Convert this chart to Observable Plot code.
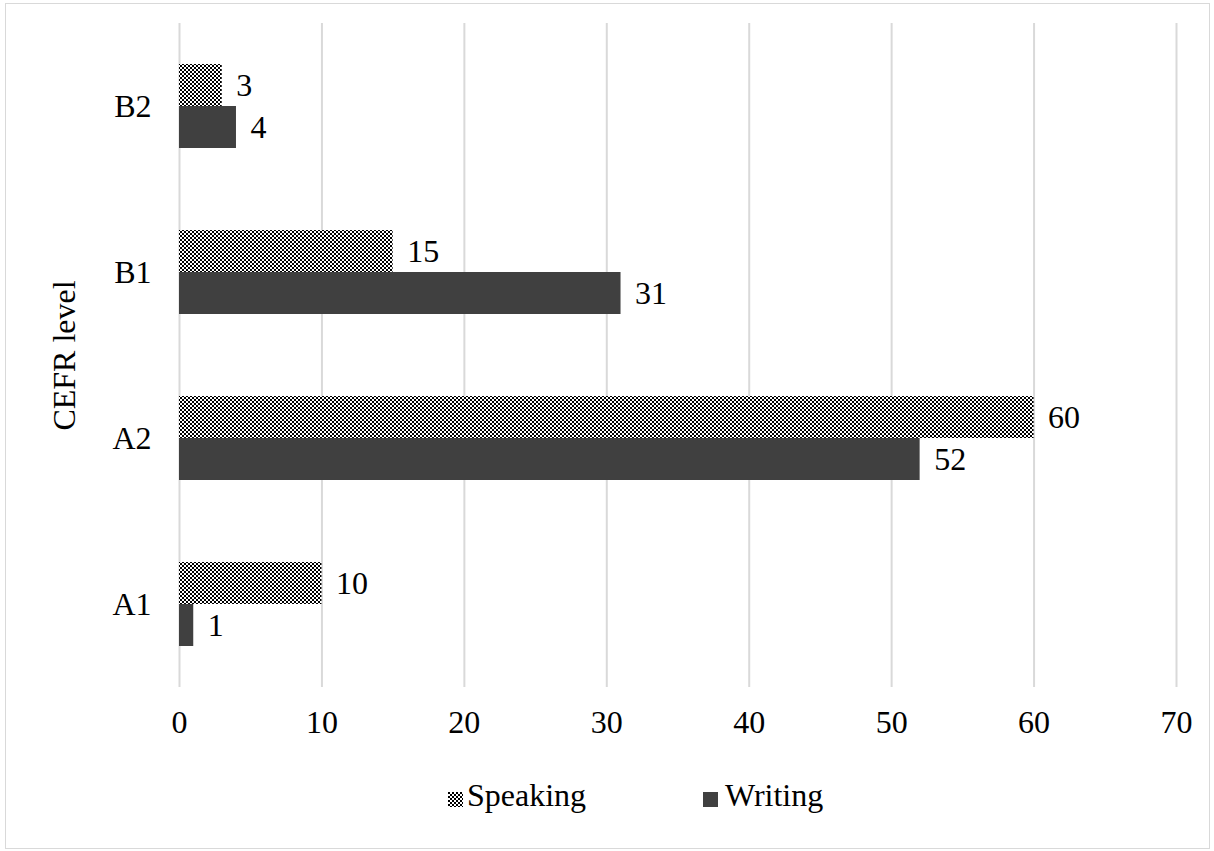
<!DOCTYPE html>
<html><head><meta charset="utf-8">
<script src="https://cdn.jsdelivr.net/npm/d3@7"></script>
<script src="https://cdn.jsdelivr.net/npm/@observablehq/plot@0.6"></script>
<style>
body{margin:0;background:#fff;font-family:'Liberation Serif';}
#frame{position:absolute;left:5px;top:3px;width:1205px;height:846px;border:1px solid #d9d9d9;box-sizing:border-box;}
#chart{position:absolute;left:0;top:0;}
.lg{position:absolute;font-size:32px;line-height:36px;color:#000;font-family:'Liberation Serif';white-space:nowrap;}
.sw{position:absolute;width:15px;height:15px;}
</style></head><body>
<div id="frame"></div>
<div id="chart"></div>
<svg class="sw" style="left:448px;top:792px" width="15" height="15"><defs><pattern id="lg" width="4" height="4" patternUnits="userSpaceOnUse"><rect width="4" height="4" fill="#fff"/><rect width="2" height="2" fill="#000"/><rect x="2" y="2" width="2" height="2" fill="#000"/></pattern></defs><rect width="15" height="15" fill="url(#lg)"/></svg>
<span class="lg" style="left:467px;top:777px">Speaking</span>
<span class="sw" style="left:703px;top:792px;background:#404040"></span>
<span class="lg" style="left:725px;top:777px">Writing</span>
<script>
const levels = ["B2", "B1", "A2", "A1"];
const series = ["Speaking", "Writing"];
const speaking = [3, 15, 60, 10];
const writing = [4, 31, 52, 1];
const xTicks = [0, 10, 20, 30, 40, 50, 60, 70];

const data = [];
levels.forEach((l, i) => {
  data.push({level: l, series: "Speaking", value: speaking[i]});
  data.push({level: l, series: "Writing", value: writing[i]});
});

const font = "'Liberation Serif'";
const chart = Plot.plot({
  width: 1214,
  height: 760,
  marginLeft: 179,
  marginRight: 38,
  marginTop: 22,
  marginBottom: 72,
  style: {fontFamily: font, fontSize: "32px", color: "#000", background: "transparent"},
  x: {domain: [0, 70], ticks: xTicks, label: null},
  fy: {domain: levels, padding: 0, label: null},
  y: {domain: series, paddingInner: 0, paddingOuter: 0.96, axis: null},
  marks: [
    Plot.gridX(xTicks, {stroke: "#d9d9d9", strokeOpacity: 1, strokeWidth: 2}),
    Plot.axisX(xTicks, {tickSize: 0, tickPadding: 23, fontSize: 32, fontFamily: font, label: null}),
    Plot.axisFy({anchor: "left", tickSize: 0, tickPadding: 28, fontSize: 32, fontFamily: font, label: "CEFR level", labelAnchor: "center", labelOffset: 127, labelArrow: "none"}),
    Plot.barX(data, {fy: "level", y: "series", x: "value", fill: d => d.series === "Speaking" ? "url(#checker)" : "#404040"}),
    Plot.text(data, {fy: "level", y: "series", x: "value", text: d => String(d.value), textAnchor: "start", dx: 14, fontSize: 32, fontFamily: font})
  ]
});
const defs = d3.select(chart).insert("defs", ":first-child");
const p = defs.append("pattern").attr("id", "checker").attr("width", 4).attr("height", 4).attr("patternUnits", "userSpaceOnUse");
p.append("rect").attr("width", 4).attr("height", 4).attr("fill", "#fff");
p.append("rect").attr("width", 2).attr("height", 2).attr("fill", "#000");
p.append("rect").attr("x", 2).attr("y", 2).attr("width", 2).attr("height", 2).attr("fill", "#000");
document.getElementById("chart").appendChild(chart);
</script>
</body></html>
